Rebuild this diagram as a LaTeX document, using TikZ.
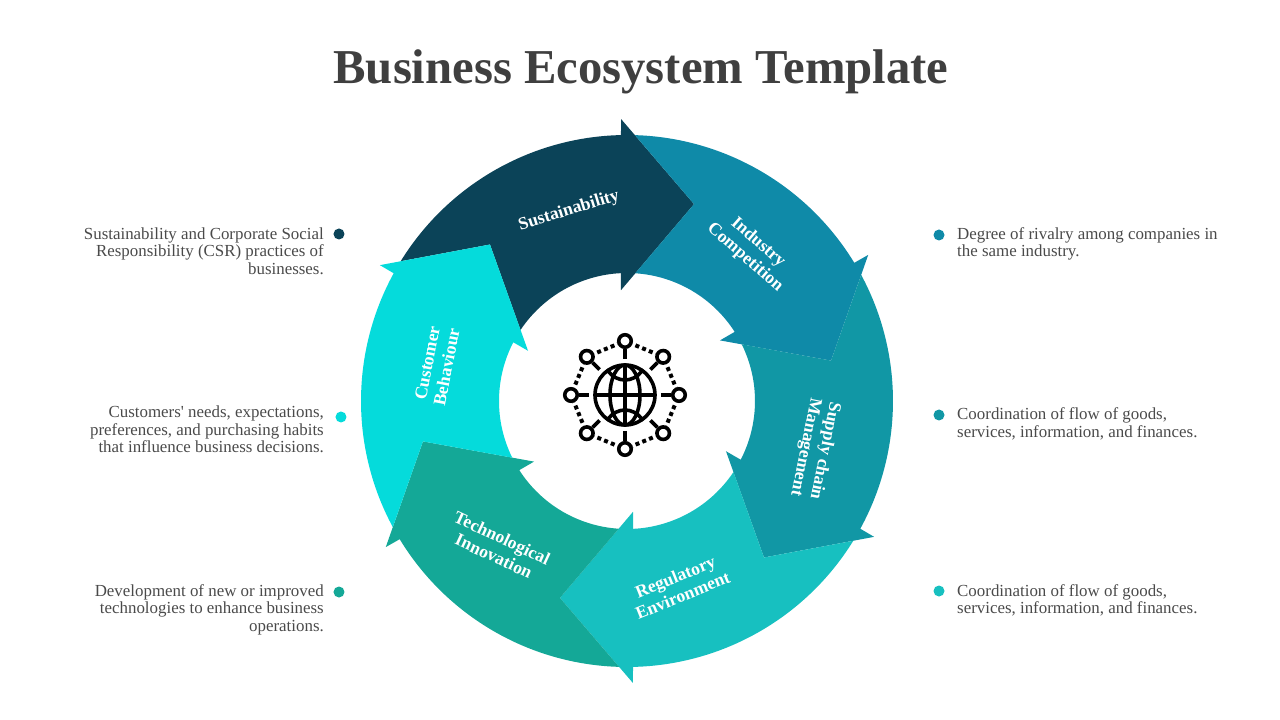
\documentclass[tikz,border=0pt]{standalone}
\usepackage{fontspec}
\setmainfont{Liberation Serif}
\definecolor{colsus}{HTML}{0B4358}
\definecolor{colind}{HTML}{0F8AA8}
\definecolor{colsup}{HTML}{1197A5}
\definecolor{colreg}{HTML}{17C0C0}
\definecolor{coltec}{HTML}{14A897}
\definecolor{colcus}{HTML}{05DBDB}
\definecolor{coltxt}{HTML}{4A4A4A}
\tikzset{
  ringarrow/.pic={
    \path[pic actions] (148.3:266) arc[start angle=148.3,end angle=91.3,radius=266] -- (91.2:282) -- (71.2:208)
      -- (93.1:111) -- (92.7:128) arc[start angle=92.7,end angle=146.3,radius=128] -- (131.2:208) -- cycle;
  },
  ringlabel/.style={text=white, align=center, font=\fontsize{17.7}{19.8}\selectfont\bfseries},
  leftnote/.style={text=coltxt, anchor=east, inner sep=0pt, align=right, font=\fontsize{16.9}{17.5}\selectfont},
  rightnote/.style={text=coltxt, anchor=west, inner sep=0pt, align=left, font=\fontsize{16.9}{17.5}\selectfont},
  bullet/.style={circle, inner sep=0pt, minimum size=11pt},
  sat/.style={circle, draw=black, line width=3.6pt, fill=white, inner sep=0pt, minimum size=12.5pt}
}
\begin{document}
\begin{tikzpicture}[x=1pt,y=1pt]
\useasboundingbox (-627,-319) rectangle (653,401);

\node[text=coltxt!85!black, font=\fontsize{48.7}{50}\selectfont\bfseries] (title) at (14,329) {Business Ecosystem Template};

\pic[fill=colsus] {ringarrow};
\pic[fill=colind, rotate=-60] {ringarrow};
\pic[fill=colsup, rotate=-120] {ringarrow};
\pic[fill=colreg, rotate=-180] {ringarrow};
\pic[fill=coltec, rotate=-240] {ringarrow};
\pic[fill=colcus, rotate=-300] {ringarrow};

\node[ringlabel, rotate=17] (sus) at (-58,190) {Sustainability};
\node[ringlabel, rotate=-41] (ind) at (124.5,151) {Industry\\Competition};
\node[ringlabel, rotate=-101.5] (sup) at (188,-48) {Supply chain\\Management};
\node[ringlabel, rotate=22] (reg) at (52,-185) {Regulatory\\Environment};
\node[ringlabel, rotate=-25] (tec) at (-129,-146) {Technological\\Innovation};
\node[ringlabel, rotate=79] (cus) at (-190,36) {Customer\\Behaviour};

\node[bullet, fill=colsus] (d1) at (-288,167) {};
\node[bullet, fill=colcus] (d2) at (-286,-16) {};
\node[bullet, fill=coltec] (d3) at (-288,-191) {};
\node[bullet, fill=colind] (d4) at (312,166) {};
\node[bullet, fill=colsup] (d5) at (312,-14) {};
\node[bullet, fill=colreg] (d6) at (312,-190) {};

\node[leftnote] (n1) at (-303,150) {Sustainability and Corporate Social\\Responsibility (CSR) practices of\\businesses.};
\node[leftnote] (n2) at (-303,-28.5) {Customers\textquotesingle{} needs, expectations,\\preferences, and purchasing habits\\that influence business decisions.};
\node[leftnote] (n3) at (-303,-208.5) {Development of new or improved\\technologies to enhance business\\operations.};
\node[rightnote] (n4) at (330,157) {Degree of rivalry among companies in\\the same industry.};
\node[rightnote] (n5) at (330,-23) {Coordination of flow of goods,\\services, information, and finances.};
\node[rightnote] (n6) at (330,-199.5) {Coordination of flow of goods,\\services, information, and finances.};

\begin{scope}[shift={(-2,6)}, line width=3.6pt]
\draw (0,0) circle[radius=30];
\draw (-30,0) -- (30,0);
\draw (0,-30) -- (0,30);
\draw (0,0) ellipse[x radius=15, y radius=30];
\draw (-17,24) .. controls (-8,12) and (8,12) .. (17,24);
\draw (-17,-24) .. controls (-8,-12) and (8,-12) .. (17,-24);
\foreach \a in {0,45,...,315} {
  \node[sat] (sat\a) at (\a:54) {};
  \draw (\a:36) -- (sat\a);
}
\foreach \a/\b in {0/45,45/90,90/135,135/180,180/225,225/270,270/315,315/0} {
  \draw[line width=4pt, dash pattern=on 4pt off 3.3pt, dash phase=3.9pt] (sat\a) -- (sat\b);
}
\end{scope}
\end{tikzpicture}
\end{document}
